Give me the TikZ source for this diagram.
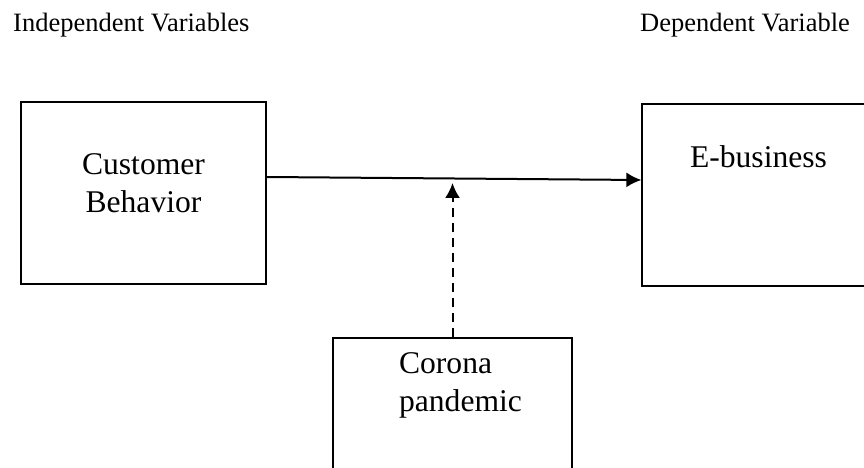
\documentclass[tikz,border=0pt]{standalone}
\usepackage{fontspec}
\setmainfont{Liberation Serif}
\usepackage{tikz}
\usetikzlibrary{positioning, arrows.meta, calc}

\begin{document}
\begin{tikzpicture}[x=1pt, y=1pt, >={Latex[length=15pt, width=15pt]}]
    \tikzstyle{varbox} = [rectangle, draw, line width=1.2pt, minimum width=245pt, minimum height=182pt, inner sep=0pt]
    \tikzstyle{boxtext} = [font=\fontsize{31.6}{38}\selectfont, inner sep=0pt]
    \tikzstyle{heading} = [font=\fontsize{26.5}{32}\selectfont, inner sep=0pt, anchor=base west]
    \tikzstyle{link} = [->, line width=2pt]

    \useasboundingbox (0,0) rectangle (864,468);

    \node[heading] (indep) at (13,436) {Independent Variables};
    \node[heading] (dep) at (640,436) {Dependent Variable};

    \node[varbox] (behavior) at (143.5,275) {};
    \node[varbox, minimum width=232pt] (ebusiness) at (758,273) {};
    \node[varbox, minimum width=239pt] (corona) at (452.5,39) {};

    \node[boxtext, align=center] (behaviortext) at (143.5,285) {Customer\\Behavior};
    \node[boxtext, anchor=base] (ebusinesstext) at (758.5,300) {E-business};
    \node[boxtext, align=left] (coronatext) at (460.5,82.5) {Corona\\pandemic};

    \coordinate (mod) at (452.5,285);
    \draw[link] ([yshift=16pt]behavior.east) -- ([yshift=15pt]ebusiness.west);
    \draw[link, dash pattern=on 9pt off 6pt] (corona.north) -- (mod);
\end{tikzpicture}
\end{document}
